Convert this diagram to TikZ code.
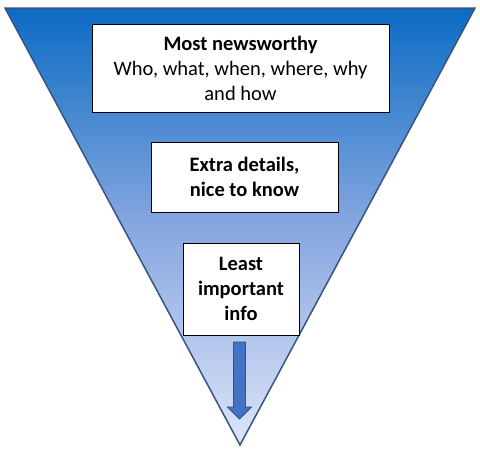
\documentclass[tikz,border=0pt]{standalone}
\usepackage{fontspec}
\setmainfont{Carlito}
\definecolor{topblue}{HTML}{0B6CC4}
\definecolor{midblue}{HTML}{86A7E0}
\definecolor{botblue}{HTML}{DEE5F8}
\definecolor{edgeblue}{HTML}{3A5480}
\definecolor{arrowblue}{HTML}{4472C4}
\definecolor{arrowedge}{HTML}{2F528F}
\tikzset{
  txtbox/.style={draw=black, line width=1pt, fill=white, align=center, inner sep=0pt, font=\fontsize{20.5}{25}\selectfont},
}
\begin{document}
\begin{tikzpicture}[x=1pt,y=-1pt]
\useasboundingbox (0,0) rectangle (480,453);
\coordinate (tl) at (5,8);
\coordinate (tr) at (475,8);
\coordinate (ap) at (240,445);
\shade[top color=topblue, bottom color=botblue, middle color=midblue] (tl) -- (tr) -- (ap) -- cycle;
\draw[edgeblue, line width=1.5pt, line join=miter] (tl) -- (tr) -- (ap) -- cycle;
\node[txtbox, minimum width=297pt, minimum height=88pt] (b1) at (240.5,68)
  {\textbf{Most newsworthy}\\Who, what, when, where, why\\and how};
\node[txtbox, minimum width=187pt, minimum height=70pt] (b2) at (244.5,177)
  {\textbf{Extra details,}\\\textbf{nice to know}};
\node[txtbox, minimum width=116pt, minimum height=92pt] (b3) at (241,289)
  {\textbf{Least}\\\textbf{important}\\\textbf{info}};
\coordinate (a1) at (233.5,342);
\coordinate (a2) at (245.5,342);
\coordinate (a3) at (245.5,407);
\coordinate (a4) at (251.5,407);
\coordinate (a5) at (239.5,419);
\coordinate (a6) at (227.5,407);
\coordinate (a7) at (233.5,407);
\filldraw[fill=arrowblue, draw=arrowedge, line width=0.8pt, line join=miter]
  (a1) -- (a2) -- (a3) -- (a4) -- (a5) -- (a6) -- (a7) -- cycle;
\end{tikzpicture}
\end{document}
